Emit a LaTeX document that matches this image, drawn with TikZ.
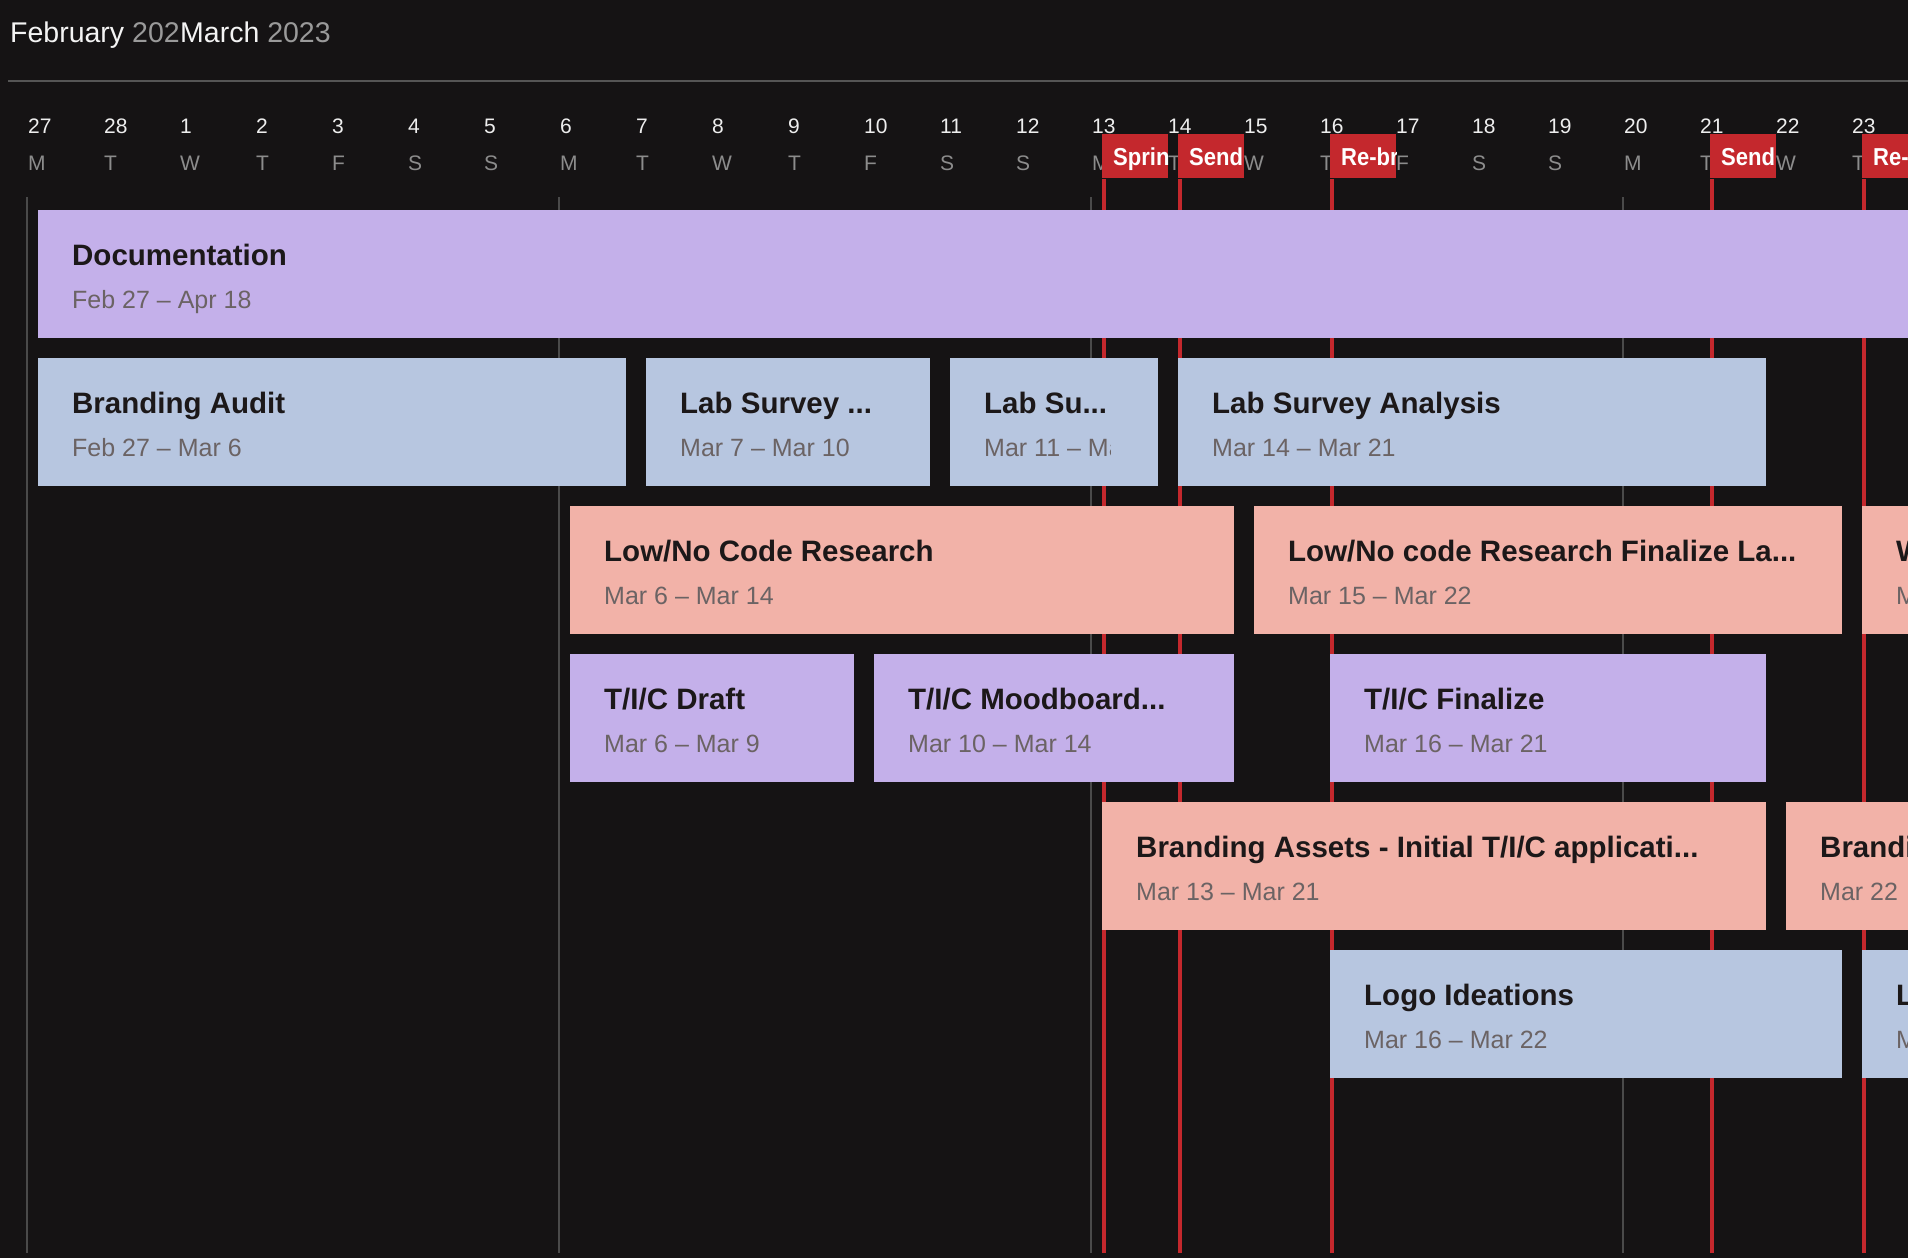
\documentclass[tikz,border=0pt]{standalone}
\usepackage{fontspec}
\setmainfont{Liberation Sans}
\newfontfamily\flagfont[FakeStretch=0.9]{Liberation Sans}

\definecolor{bg}{HTML}{151314}
\definecolor{lav}{HTML}{C4B0EA}
\definecolor{sky}{HTML}{B7C6E0}
\definecolor{peach}{HTML}{F2B2A8}
\definecolor{flagred}{HTML}{C4282D}
\definecolor{ink}{HTML}{1C1819}
\definecolor{muted}{HTML}{6B6364}
\definecolor{rulegray}{HTML}{555555}
\definecolor{weekgray}{HTML}{4A4A4A}
\definecolor{dayfg}{HTML}{EEEEEE}
\definecolor{wdayfg}{HTML}{8C8C8C}
\definecolor{yearfg}{HTML}{9A9A9A}
\definecolor{headfg}{HTML}{F4F4F4}

\tikzset{
  taskbox/.style={anchor=north west, minimum height=128pt, inner sep=0pt, outer sep=0pt},
  tasktitle/.style={anchor=base west, inner sep=0pt, text=ink,
    font=\fontsize{29.5pt}{29.5pt}\selectfont\bfseries},
  taskdate/.style={anchor=base west, inner sep=0pt, text=muted,
    font=\fontsize{25pt}{25pt}\selectfont},
  daynum/.style={anchor=base west, inner sep=0pt, text=dayfg,
    font=\fontsize{21pt}{21pt}\selectfont},
  dayname/.style={anchor=base west, inner sep=0pt, text=wdayfg,
    font=\fontsize{21pt}{21pt}\selectfont},
  headtext/.style={anchor=base west, inner sep=0pt, text=headfg,
    font=\fontsize{28.5pt}{28.5pt}\selectfont},
  flagbox/.style={anchor=north west, fill=flagred, minimum width=66pt,
    minimum height=44pt, inner sep=0pt, outer sep=0pt},
  flagtext/.style={anchor=base west, inner sep=0pt, text=white,
    font=\fontsize{24.5pt}{24.5pt}\flagfont\bfseries},
  weekline/.style={draw=weekgray, line width=2pt},
  redline/.style={draw=flagred, line width=4pt},
}

% #1 name, #2 row, #3 first day column, #4 length in days, #5 fill, #6 title, #7 dates
\newcommand\task[7]{%
  \node[taskbox, fill=#5, minimum width={76*#4-20}] (#1) at ({38+76*#3},{210+148*#2}) {};
  \begin{scope}
    \clip (#1.south west) rectangle ([xshift=-48pt]#1.north east);
    \node[tasktitle] (#1-t) at ([xshift=34pt,yshift=-55pt]#1.north west) {#6};
    \node[taskdate] (#1-d) at ([xshift=34pt,yshift=-98pt]#1.north west) {#7};
  \end{scope}}

\begin{document}
\begin{tikzpicture}[x=1pt,y=-1pt]
\useasboundingbox (0,0) rectangle (1908,1258);
\fill[bg] (0,0) rectangle (1908,1258);
\clip (0,0) rectangle (1908,1258);

% month header
\node[headtext] (feb) at (10,42.7) {February \textcolor{yearfg}{2023}};
\node[headtext, fill=bg, inner ysep=5pt] (mar) at (180,42.7) {March \textcolor{yearfg}{2023}};
\coordinate (hr1) at (8,80.7);
\coordinate (hr2) at (1908,80.7);
\draw[rulegray, line width=2pt] (hr1) -- (hr2);

% week separators
\foreach \x [count=\j] in {27,559,1091,1623} {
  \coordinate (wt\j) at (\x,197);
  \coordinate (wb\j) at (\x,1253);
  \draw[weekline] (wt\j) -- (wb\j);
}

% milestone lines
\foreach \k [count=\j] in {14,15,17,22,24} {
  \coordinate (ls\j) at ({40+76*\k},179);
  \coordinate (le\j) at ({40+76*\k},1253);
  \draw[redline] (ls\j) -- (le\j);
}

% day scale
\foreach \n/\w [count=\i from 0] in {27/M,28/T,1/W,2/T,3/F,4/S,5/S,6/M,7/T,8/W,9/T,10/F,11/S,12/S,13/M,14/T,15/W,16/T,17/F,18/S,19/S,20/M,21/T,22/W,23/T} {
  \node[daynum] (dn\i) at ({28+76*\i},133.3) {\n};
  \node[dayname] (dw\i) at ({28+76*\i},170) {\w};
}

% tasks
\task{doc}{0}{0}{51}{lav}{Documentation}{Feb 27 – Apr 18}
\task{audit}{1}{0}{8}{sky}{Branding Audit}{Feb 27 – Mar 6}
\task{labA}{1}{8}{4}{sky}{Lab Survey ...}{Mar 7 – Mar 10}
\task{labB}{1}{12}{3}{sky}{Lab Su...}{Mar 11 – Ma}
\task{labC}{1}{15}{8}{sky}{Lab Survey Analysis}{Mar 14 – Mar 21}
\task{lowA}{2}{7}{9}{peach}{Low/No Code Research}{Mar 6 – Mar 14}
\task{lowB}{2}{16}{8}{peach}{Low/No code Research Finalize La...}{Mar 15 – Mar 22}
\task{lowC}{2}{24}{8}{peach}{W}{M}
\task{tdraft}{3}{7}{4}{lav}{T/I/C Draft}{Mar 6 – Mar 9}
\task{tmood}{3}{11}{5}{lav}{T/I/C Moodboard...}{Mar 10 – Mar 14}
\task{tfinal}{3}{17}{6}{lav}{T/I/C Finalize}{Mar 16 – Mar 21}
\task{assetA}{4}{14}{9}{peach}{Branding Assets - Initial T/I/C applicati...}{Mar 13 – Mar 21}
\task{assetB}{4}{23}{8}{peach}{Brandi}{Mar 22}
\task{logoA}{5}{17}{7}{sky}{Logo Ideations}{Mar 16 – Mar 22}
\task{logoB}{5}{24}{8}{sky}{L}{M}

% milestone flags
\foreach \k/\t [count=\j] in {14/Sprin,15/Send,17/Re-br,22/Send,24/Re-} {
  \node[flagbox] (fl\j) at ({38+76*\k},134) {};
  \begin{scope}
    \clip (fl\j.south west) rectangle (fl\j.north east);
    \node[flagtext] (ft\j) at ([xshift=11pt,yshift=-31pt]fl\j.north west) {\t};
  \end{scope}
}
\end{tikzpicture}
\end{document}
